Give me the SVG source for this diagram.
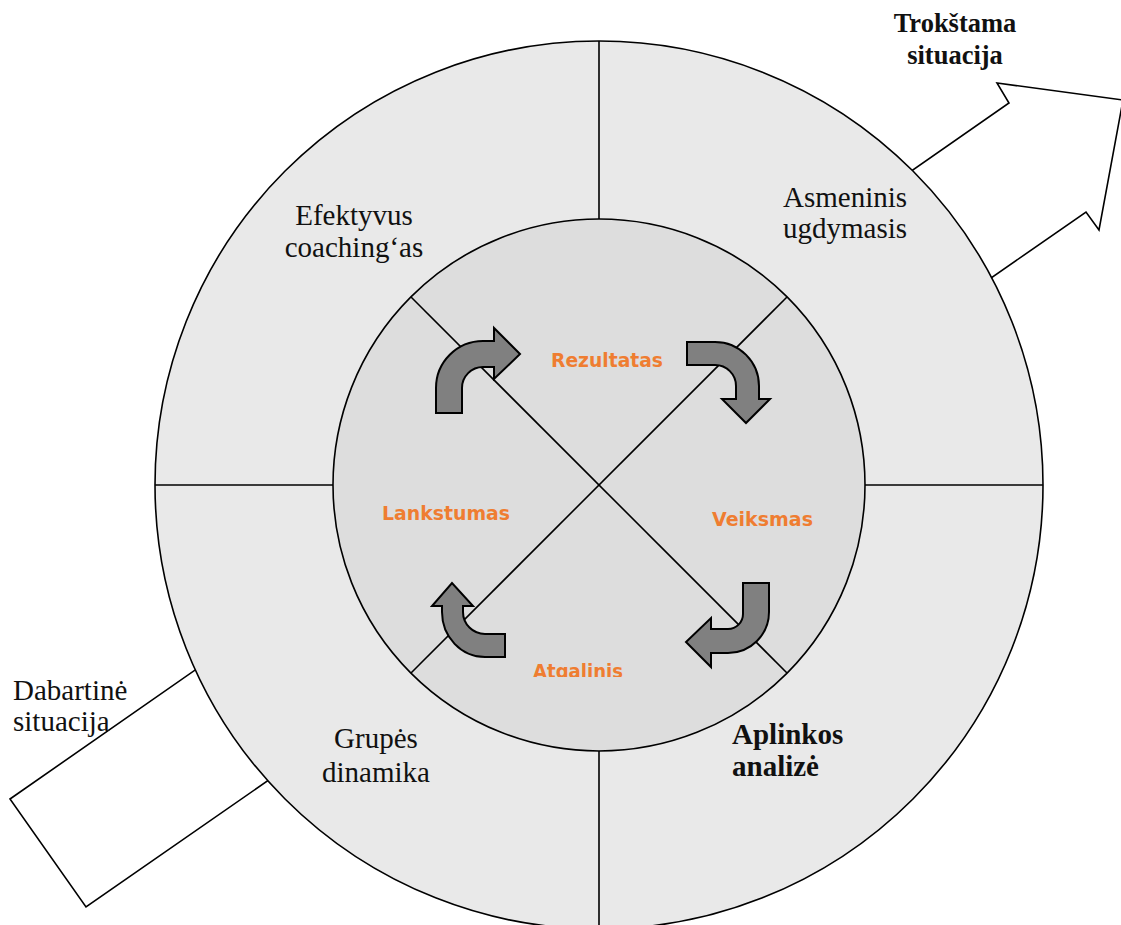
<svg xmlns="http://www.w3.org/2000/svg" width="1121" height="925" viewBox="0 0 1121 925">
  <style>
    .edge { fill: none; stroke: #000; stroke-width: 1.6; }
    .ring { fill: #e9e9e9; stroke: #000; stroke-width: 1.6; }
    .core { fill: #dddddd; stroke: #000; stroke-width: 1.6; }
    .turn { fill: #808080; stroke: #000; stroke-width: 2; stroke-linejoin: miter; }
    .serif { font-family: "Liberation Serif", "Times New Roman", serif; font-size: 29px; fill: #111; }
    .serif-b { font-family: "Liberation Serif", "Times New Roman", serif; font-weight: bold; fill: #111; }
    .step { font-family: "DejaVu Sans", Verdana, sans-serif; font-weight: bold; font-size: 20px; fill: #ef7d31; }
  </style>
  <defs>
    <clipPath id="clip-step">
      <rect x="500" y="640" width="160" height="37"/>
    </clipPath>
  </defs>

  <rect width="1121" height="925" fill="#ffffff"/>

  <!-- broad arrow from the present to the desired situation -->
  <g id="path-arrow">
    <polygon points="10,799 1009,103 997,83 1123,100 1099,230 1086,212 86,907"
             fill="#ffffff" stroke="#000" stroke-width="1.6" stroke-linejoin="miter"/>
  </g>

  <!-- outer ring -->
  <g id="outer-circle">
    <circle cx="599" cy="485" r="444" class="ring"/>
  </g>

  <!-- inner circle -->
  <g id="inner-circle">
    <circle cx="599" cy="485" r="266" class="core"/>
  </g>

  <!-- dividing lines -->
  <g id="connectors">
    <line x1="599" y1="41" x2="599" y2="219" class="edge"/>
    <line x1="599" y1="751" x2="599" y2="925" class="edge"/>
    <line x1="155" y1="485" x2="333" y2="485" class="edge"/>
    <line x1="865" y1="485" x2="1043" y2="485" class="edge"/>
    <line x1="411" y1="297" x2="787" y2="673" class="edge"/>
    <line x1="787" y1="297" x2="411" y2="673" class="edge"/>
  </g>

  <!-- bent cycle arrows -->
  <g id="turn-top-left">
    <path class="turn" d="M 436 413 L 436 388 A 47 47 0 0 1 483 341 L 494 341 L 494 328 L 520 354 L 494 379 L 494 367 L 483 367 A 21 21 0 0 0 462 388 L 462 413 Z"/>
  </g>
  <g id="turn-top-right">
    <path class="turn" d="M 687 342 L 715 342 A 44 44 0 0 1 759 386 L 759 399 L 770 399 L 746 423 L 722 399 L 736 399 L 736 386 A 21 21 0 0 0 715 365 L 687 365 Z"/>
  </g>
  <g id="turn-bottom-right">
    <path class="turn" d="M 743 583 L 769 583 L 769 612 A 41 41 0 0 1 728 653 L 711 653 L 711 667 L 686 642 L 711 618 L 711 629 L 728 629 A 15 15 0 0 0 743 614 Z"/>
  </g>
  <g id="turn-bottom-left">
    <path class="turn" d="M 505 634 L 485 634 A 22 22 0 0 1 463 612 L 463 606 L 473 606 L 452 583 L 432 606 L 442 606 L 442 612 A 43 45 0 0 0 485 657 L 505 657 Z"/>
  </g>

  <!-- cycle step labels -->
  <g id="step-result">
    <text class="step" x="551" y="367" textLength="112" lengthAdjust="spacingAndGlyphs">Rezultatas</text>
  </g>
  <g id="step-action">
    <text class="step" x="712" y="526" textLength="101" lengthAdjust="spacingAndGlyphs">Veiksmas</text>
  </g>
  <g id="step-feedback">
    <text class="step" x="533" y="678" textLength="90" lengthAdjust="spacingAndGlyphs" clip-path="url(#clip-step)">Atgalinis</text>
  </g>
  <g id="step-flexibility">
    <text class="step" x="382" y="520" textLength="128" lengthAdjust="spacingAndGlyphs">Lankstumas</text>
  </g>

  <!-- ring sector labels -->
  <g id="sector-coaching">
    <text class="serif" text-anchor="middle" x="354" y="225">Efektyvus</text>
    <text class="serif" text-anchor="middle" x="354" y="257">coaching‘as</text>
  </g>
  <g id="sector-growth">
    <text class="serif" text-anchor="middle" x="845" y="207">Asmeninis</text>
    <text class="serif" text-anchor="middle" x="845" y="238">ugdymasis</text>
  </g>
  <g id="sector-group">
    <text class="serif" text-anchor="middle" x="376" y="748">Grupės</text>
    <text class="serif" text-anchor="middle" x="376" y="782">dinamika</text>
  </g>
  <g id="sector-environment">
    <text class="serif-b" font-size="29" x="732" y="744">Aplinkos</text>
    <text class="serif-b" font-size="29" x="732" y="776">analizė</text>
  </g>

  <!-- situation labels -->
  <g id="label-desired">
    <text class="serif-b" font-size="26.5" text-anchor="middle" x="955" y="32">Trokštama</text>
    <text class="serif-b" font-size="26.5" text-anchor="middle" x="955" y="64">situacija</text>
  </g>
  <g id="label-current">
    <text class="serif" x="13" y="700">Dabartinė</text>
    <text class="serif" x="13" y="731">situacija</text>
  </g>
</svg>
